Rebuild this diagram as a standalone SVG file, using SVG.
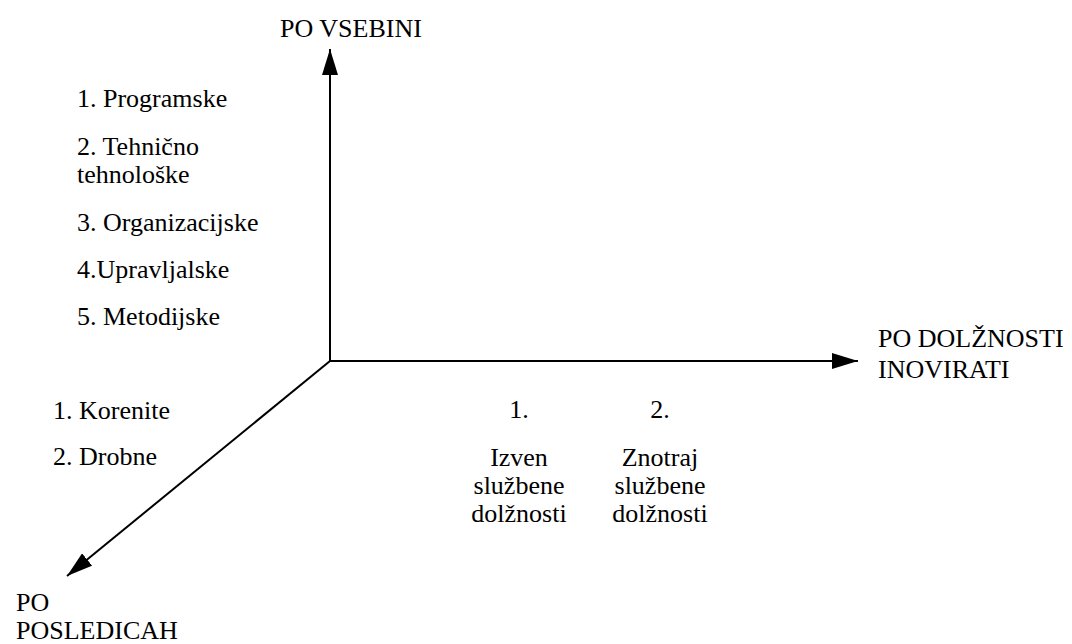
<svg xmlns="http://www.w3.org/2000/svg" width="1072" height="644" viewBox="0 0 1072 644">
  <defs>
    <!-- solid triangular arrowhead; tip sits at the end of the line -->
    <marker id="arrow" markerUnits="userSpaceOnUse" markerWidth="26" markerHeight="16" refX="26" refY="8" orient="auto">
      <path d="M0,0 L26,8 L0,16 Z" fill="#000"/>
    </marker>
  </defs>
  <style>
    .lbl { font-family: 'Liberation Serif', 'Times New Roman', serif; font-size: 26px; fill: #000; }
    .mid { text-anchor: middle; }
    .axis { stroke: #000; stroke-width: 2; fill: none; marker-end: url(#arrow); }
  </style>
  <rect width="1072" height="644" fill="#fff"/>

  <!-- three axes from a common origin -->
  <g id="connectors">
    <line class="axis" x1="330" y1="362" x2="330" y2="49"/>
    <line class="axis" x1="329" y1="361" x2="858" y2="361"/>
    <line class="axis" x1="330" y1="361" x2="67" y2="576"/>
  </g>

  <g class="lbl">
    <g id="axis-vsebina">
      <text x="280" y="37">PO VSEBINI</text>
    </g>

    <g id="list-vsebina">
      <text x="77" y="107">1. Programske</text>
      <text x="77" y="155">2. Tehnično</text>
      <text x="77" y="183">tehnološke</text>
      <text x="77" y="231">3. Organizacijske</text>
      <text x="77" y="278">4.Upravljalske</text>
      <text x="77" y="325">5. Metodijske</text>
    </g>

    <g id="axis-dolznost">
      <text x="878" y="347">PO DOLŽNOSTI</text>
      <text x="878" y="378">INOVIRATI</text>
    </g>

    <g id="dolznost-1">
      <text class="mid" x="519" y="418">1.</text>
      <text class="mid" x="519" y="466">Izven</text>
      <text class="mid" x="519" y="494">službene</text>
      <text class="mid" x="519" y="522">dolžnosti</text>
    </g>

    <g id="dolznost-2">
      <text class="mid" x="660" y="418">2.</text>
      <text class="mid" x="660" y="466">Znotraj</text>
      <text class="mid" x="660" y="494">službene</text>
      <text class="mid" x="660" y="522">dolžnosti</text>
    </g>

    <g id="list-posledice">
      <text x="53" y="419">1. Korenite</text>
      <text x="53" y="465">2. Drobne</text>
    </g>

    <g id="axis-posledice">
      <text x="16" y="611">PO</text>
      <text x="16" y="639">POSLEDICAH</text>
    </g>
  </g>
</svg>
